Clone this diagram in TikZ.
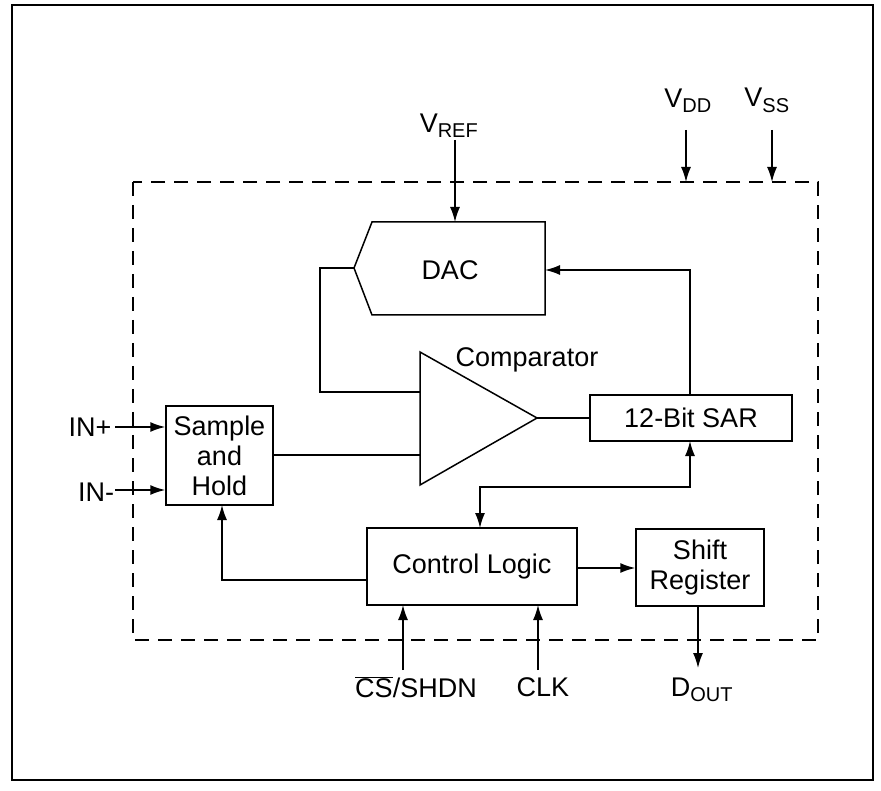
\documentclass[tikz,border=0pt]{standalone}
\usepackage{fontspec}
\setmainfont{Liberation Sans}
\usetikzlibrary{arrows.meta}
\begin{document}
\begin{tikzpicture}[x=1pt,y=-1pt,line width=1.5pt,
  box/.style={draw,align=center,inner sep=0pt},
  arr/.style={-{Latex[length=15pt,width=10pt]}},
  lab/.style={font=\fontsize{27}{30}\selectfont,inner sep=0pt}]
\newcommand{\sbs}[1]{\textsubscript{\fontsize{20}{22}\selectfont #1}}
\useasboundingbox (0,0) rectangle (881,791);
\draw[line width=1.2pt] (12,5) rectangle (873,780);
\draw[dash pattern=on 14pt off 9pt] (133,182) rectangle (818,640);
% DAC
\draw (372,222) -- (545,222) -- (545,315) -- (372,315) -- (354,268) -- cycle;
\node[lab] (dac) at (450,270) {DAC};
\coordinate (dacl) at (354,268);
\coordinate (dacr) at (545,270);
\coordinate (dact) at (455,222);
% VREF
\node[lab,anchor=south] (vref) at (449,138) {V\sbs{REF}};
\coordinate (vreft) at (455,140);
\draw[arr] (vreft) -- (dact);
% comparator
\draw (420,352) -- (420,485) -- (537,418) -- cycle;
\coordinate (cin1) at (420,392);
\coordinate (cin2) at (420,455);
\coordinate (cout) at (537,418);
\node[lab] (complab) at (527,360) {Comparator};
\draw (dacl) -- (320,268) -- (320,392) -- (cin1);
% SAR
\node[box,minimum width=202pt,minimum height=46pt,lab] (sar) at (691,418) {12-Bit SAR};
\draw (cout) -- (sar.west);
\draw[arr] (sar.north -| 690,0) -- (690,270) -- (dacr);
% S/H
\node[box,minimum width=107pt,minimum height=99pt,lab,align=center] (sh) at (219.5,455.5) {Sample\\and\\Hold};
\draw (sh.east |- cin2) -- (cin2);
\node[lab] (inp) at (90,427) {IN+};
\node[lab] (inm) at (96,492) {IN-};
\draw[arr] (115,427) -- (sh.west |- 0,427);
\draw[arr] (115,490) -- (sh.west |- 0,490);
% control logic
\node[box,minimum width=210pt,minimum height=77pt,lab] (cl) at (472,566.5) {Control Logic};
\node[box,minimum width=128pt,minimum height=77pt,lab,align=center] (shr) at (700,567.5) {Shift\\Register};
\draw[arr] (cl.east |- 0,568) -- (shr.west |- 0,568);
\draw[arr] (cl.west |- 0,580) -- (222,580) -- (222,505);
\draw[{Latex[length=15pt,width=10pt]}-{Latex[length=15pt,width=10pt]}] (480,528) -- (480,487) -- (690,487) -- (690,441);
% bottom pins
\node[lab] (cs) at (416,687) {$\overline{\mbox{CS}}$/SHDN};
\node[lab] (clk) at (543,687) {CLK};
\draw[arr] (403,670) -- (403,605);
\draw[arr] (538,670) -- (538,605);
\node[lab] (dout) at (702,690) {D\sbs{OUT}};
\draw[arr] (698,606) -- (698,668);
% supply
\node[lab,anchor=south] (vdd) at (688,113) {V\sbs{DD}};
\node[lab,anchor=south] (vss) at (767,113) {V\sbs{SS}};
\draw[arr] (686,130) -- (686,182);
\draw[arr] (772,130) -- (772,182);
\end{tikzpicture}
\end{document}
